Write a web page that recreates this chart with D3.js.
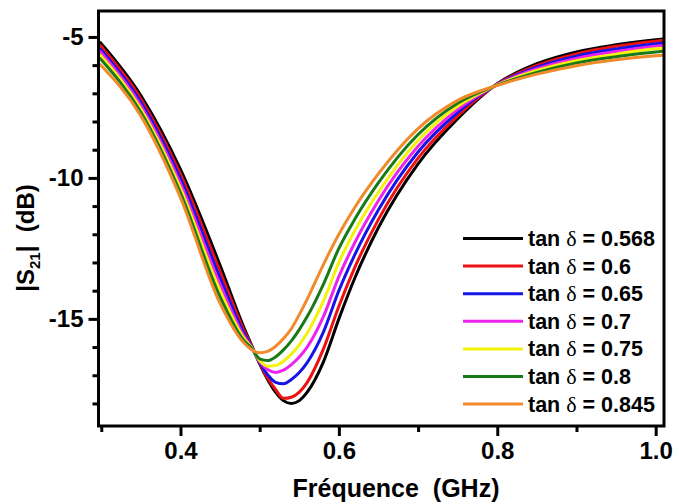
<!DOCTYPE html>
<html><head><meta charset="utf-8">
<script src="https://cdn.jsdelivr.net/npm/d3@7"></script>
<style>
html,body{margin:0;padding:0;background:#fff;}
svg{display:block;}
text{font-family:"Liberation Sans",Arial,sans-serif;font-weight:bold;fill:#000;}
</style></head>
<body>
<svg id="chart" width="679" height="504"></svg>
<script>
// ---- data ----
const freq = [0.298, 0.35, 0.40, 0.45, 0.48, 0.49, 0.50, 0.51, 0.52, 0.53, 0.54, 0.55, 0.56, 0.58, 0.60, 0.62, 0.65, 0.70, 0.75, 0.80, 0.85, 0.90, 0.95, 1.00, 1.01];
const s568 = [-5.17, -7.08, -9.70, -13.10, -15.30, -15.95, -16.60, -17.15, -17.60, -17.90, -18.00, -17.90, -17.60, -16.56, -15.00, -13.56, -11.76, -9.50, -7.90, -6.66, -5.95, -5.53, -5.28, -5.10, -5.07];
const s600 = [-5.28, -7.20, -9.87, -13.32, -15.40, -15.98, -16.57, -17.10, -17.50, -17.82, -17.78, -17.60, -17.25, -16.10, -14.55, -13.18, -11.47, -9.30, -7.80, -6.67, -6.01, -5.60, -5.33, -5.15, -5.12];
const s650 = [-5.40, -7.32, -10.03, -13.55, -15.50, -16.00, -16.55, -16.98, -17.25, -17.30, -17.15, -16.90, -16.55, -15.50, -14.00, -12.73, -11.13, -9.08, -7.68, -6.68, -6.07, -5.68, -5.43, -5.24, -5.21];
const s700 = [-5.50, -7.44, -10.20, -13.78, -15.60, -16.02, -16.52, -16.80, -16.90, -16.82, -16.62, -16.35, -16.00, -14.95, -13.50, -12.30, -10.80, -8.88, -7.57, -6.69, -6.13, -5.76, -5.52, -5.33, -5.30];
const s750 = [-5.62, -7.56, -10.37, -14.00, -15.68, -16.03, -16.48, -16.68, -16.65, -16.50, -16.25, -15.92, -15.50, -14.40, -13.00, -11.88, -10.50, -8.67, -7.46, -6.70, -6.19, -5.84, -5.61, -5.42, -5.40];
const s800 = [-5.75, -7.67, -10.53, -14.22, -15.77, -16.05, -16.42, -16.48, -16.35, -16.10, -15.78, -15.38, -14.92, -13.80, -12.50, -11.47, -10.17, -8.46, -7.35, -6.71, -6.26, -5.92, -5.70, -5.53, -5.51];
const s845 = [-5.96, -7.80, -10.70, -14.45, -15.85, -16.10, -16.20, -16.15, -15.98, -15.70, -15.35, -14.85, -14.30, -13.10, -12.00, -11.05, -9.85, -8.25, -7.25, -6.72, -6.32, -6.02, -5.81, -5.67, -5.65];
const tanValues = ["0.568", "0.6", "0.65", "0.7", "0.75", "0.8", "0.845"];
const seriesValues = [s568, s600, s650, s700, s750, s800, s845];
const colors = ["#000000", "#ee1111", "#1515e6", "#ee22ee", "#f2f20a", "#177a17", "#f08a2a"];
const xMajorTicks = [0.4, 0.6, 0.8, 1.0];
const xMinorTicks = [0.3, 0.5, 0.7, 0.9];
const yMajorTicks = [-5, -10, -15];
const yMinorTicks = [-6, -7, -8, -9, -11, -12, -13, -14, -16, -17, -18];

// ---- layout ----
const L = 98.5, R = 664, T = 11, B = 426;
const svg = d3.select("#chart");
const x = d3.scaleLinear().domain([0.2965, 1.0105]).range([L, R]);
const y = d3.scaleLinear().domain([-18.8, -4.08]).range([B, T]);

// curves
const line = d3.line().x(d => x(d[0])).y(d => y(d[1])).curve(d3.curveMonotoneX);
svg.append("clipPath").attr("id", "clip").append("rect")
  .attr("x", L).attr("y", T).attr("width", R - L).attr("height", B - T);
const gLines = svg.append("g").attr("clip-path", "url(#clip)");
seriesValues.forEach((vals, i) => {
  gLines.append("path")
    .datum(freq.map((f, j) => [f, vals[j]]))
    .attr("d", line)
    .attr("fill", "none")
    .attr("stroke", colors[i])
    .attr("stroke-width", 3)
    .attr("stroke-linejoin", "round");
});

// frame
svg.append("rect").attr("x", L).attr("y", T).attr("width", R - L).attr("height", B - T)
  .attr("fill", "none").attr("stroke", "#000").attr("stroke-width", 3);

const tickFont = sel => sel.style("font-size", "24px")
  .style("font-family", "'Liberation Sans',Arial,sans-serif").style("font-weight", "bold");

// axes
const gx = svg.append("g").attr("transform", `translate(0,${B})`)
  .call(d3.axisBottom(x).tickValues(xMajorTicks).tickFormat(d3.format(".1f")).tickSize(10).tickPadding(6));
gx.select(".domain").remove();
gx.selectAll(".tick line").attr("stroke-width", 3);
gx.selectAll(".tick text").call(tickFont);
const gxm = svg.append("g").attr("transform", `translate(0,${B})`)
  .call(d3.axisBottom(x).tickValues(xMinorTicks).tickSize(6).tickFormat(""));
gxm.select(".domain").remove();
gxm.selectAll(".tick line").attr("stroke-width", 3);

const gy = svg.append("g").attr("transform", `translate(${L},0)`)
  .call(d3.axisLeft(y).tickValues(yMajorTicks).tickFormat(d => String(d)).tickSize(10).tickPadding(5));
gy.select(".domain").remove();
gy.selectAll(".tick line").attr("stroke-width", 3);
gy.selectAll(".tick text").call(tickFont);
const gym = svg.append("g").attr("transform", `translate(${L},0)`)
  .call(d3.axisLeft(y).tickValues(yMinorTicks).tickSize(6).tickFormat(""));
gym.select(".domain").remove();
gym.selectAll(".tick line").attr("stroke-width", 3);

// axis titles
svg.append("text").attr("x", 396).attr("y", 497).attr("text-anchor", "middle")
  .style("font-size", "25px").text("Fréquence\u00a0\u00a0(GHz)");
const yt = svg.append("text").attr("transform", "translate(34,238) rotate(-90)")
  .attr("text-anchor", "middle").style("font-size", "24px");
yt.append("tspan").text("|S");
yt.append("tspan").attr("dy", 6).style("font-size", "15px").text("21");
yt.append("tspan").attr("dy", -6).text("|\u00a0\u00a0(dB)");

// legend
const legY0 = 238.5, legDy = 27.6;
tanValues.forEach((v, i) => {
  const yy = legY0 + i * legDy;
  svg.append("line").attr("x1", 463).attr("x2", 523).attr("y1", yy).attr("y2", yy)
    .attr("stroke", colors[i]).attr("stroke-width", 3);
  const t = svg.append("text").attr("x", 528).attr("y", yy + 7.5).style("font-size", "21.5px");
  t.append("tspan").text("tan ");
  t.append("tspan").style("font-family", "'Liberation Serif','Times New Roman',serif").style("font-weight", "normal").style("font-size", "22px").text("δ");
  t.append("tspan").text(" = " + v);
});
</script>
</body></html>
